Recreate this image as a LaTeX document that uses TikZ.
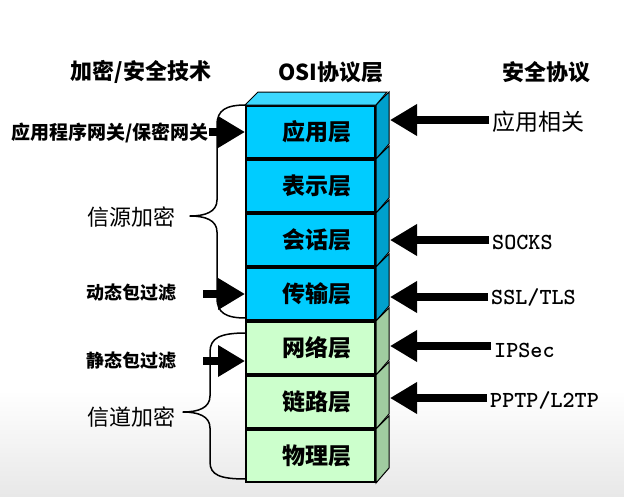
\documentclass[tikz,border=0pt]{standalone}
\usepackage{fontspec}
\newfontfamily\cjk{Noto Sans CJK SC}
\usetikzlibrary{arrows.meta,positioning}
\definecolor{apcyan}{RGB}{0,204,255}
\definecolor{apside}{RGB}{0,160,204}
\definecolor{aptop}{RGB}{60,216,255}
\definecolor{netgreen}{RGB}{204,255,204}
\definecolor{netside}{RGB}{160,204,160}
\tikzset{
    layer/.style={draw, line width=2pt, minimum width=129pt, minimum height=52pt,
        inner sep=0pt, font=\cjk\bfseries\fontsize{23}{23}\selectfont},
    head/.style={inner sep=0pt, font=\cjk\bfseries\fontsize{22}{22}\selectfont},
    tech/.style={inner sep=0pt, font=\cjk\bfseries\fontsize{18}{18}\selectfont},
    crypt/.style={inner sep=0pt, font=\cjk\fontsize{22}{22}\selectfont},
    proto/.style={inner sep=0pt, anchor=west, font=\ttfamily\bfseries\fontsize{23}{23}\selectfont},
    bigarrow/.style={line width=8pt, -{Triangle[length=27pt,width=30pt]}},
    brace/.style={line width=1.5pt, line join=round},
}
\begin{document}
\begin{tikzpicture}[x=1pt,y=-1pt]
    \useasboundingbox (0,0) rectangle (624,496);
    \fill[white] (0,0) rectangle (624,496);
    \shade[top color=white, bottom color=black!9] (0,390) rectangle (624,496);

    % column heads
    \node[head] (techhead) at (141,72) {加密/安全技术};
    \node[head] (osihead) at (331,72) {OSI协议层};
    \node[head] (protohead) at (546,72) {安全协议};

    % left: braces
    \node[crypt] (src) at (131,217) {信源加密};
    \node[crypt] (chan) at (131,417) {信道加密};
    \draw[brace] (246,105) .. controls (226,105) and (217,110) .. (217,125)
        -- (217,200) .. controls (217,212) and (205,216) .. (190,216)
        .. controls (205,216) and (217,220) .. (217,232)
        -- (217,298) .. controls (217,313) and (226,318) .. (246,318);
    \draw[brace] (246,333) .. controls (220,333) and (210,338) .. (210,352)
        -- (210,396) .. controls (210,408) and (198,412) .. (183,412)
        .. controls (198,412) and (210,416) .. (210,428)
        -- (210,462) .. controls (210,475) and (220,479) .. (246,479);

    % OSI stack
    \foreach \i/\lab/\fc/\sc in {1/应用层/apcyan/apside,2/表示层/apcyan/apside,
            3/会话层/apcyan/apside,4/传输层/apcyan/apside,5/网络层/netgreen/netside,
            6/链路层/netgreen/netside,7/物理层/netgreen/netside}{
        \node[layer, fill=\fc] (L\i) at (310.5,{78+54*\i}) {\hspace*{12pt}\lab};
        \draw[line width=1pt, fill=\sc] (L\i.north east) -- ++(13,-13) -- ++(0,52)
            -- (L\i.south east) -- cycle;
    }
    \draw[line width=1pt, fill=aptop] (L1.north west) -- ++(13,-13) -- ++(129,0)
        -- (L1.north east) -- cycle;
    \coordinate (edge) at (390,0);

    % left: techniques
    \node[tech, font=\cjk\bfseries\fontsize{19}{19}\selectfont] (gw) at (110,133) {应用程序网关/保密网关};
    \node[tech] (dyn) at (131,293) {动态包过滤};
    \node[tech] (stat) at (131,361) {静态包过滤};
    \draw[bigarrow] (gw.east |- L1.west) -- (L1.west);
    \draw[bigarrow, shorten <=27pt] (dyn.east |- L4.west) -- (L4.west);
    \draw[bigarrow, shorten <=27pt] (stat.east) -- (stat.east -| L5.west);

    % right: protocols
    \node[proto, font=\cjk\fontsize{23}{23}\selectfont] (app) at (492,122) {应用相关};
    \node[proto] (socks) at (492,242) {SOCKS};
    \node[proto] (ssl) at (491,297) {SSL/TLS};
    \node[proto] (ipsec) at (494,350) {IPSec};
    \node[proto] (pptp) at (490,400) {PPTP/L2TP};
    \draw[bigarrow, shorten <=3pt] ([yshift=2pt]app.west) -- ([yshift=2pt]app.west -| edge);
    \draw[bigarrow, shorten <=3pt] ([yshift=2pt]socks.west) -- ([yshift=2pt]socks.west -| edge);
    \draw[bigarrow, shorten <=3pt] (ssl.west) -- (ssl.west -| edge);
    \draw[bigarrow, shorten <=3pt] ([yshift=4pt]ipsec.west) -- ([yshift=4pt]ipsec.west -| edge);
    \draw[bigarrow, shorten <=3pt] ([yshift=2pt]pptp.west) -- ([yshift=2pt]pptp.west -| edge);
\end{tikzpicture}
\end{document}
